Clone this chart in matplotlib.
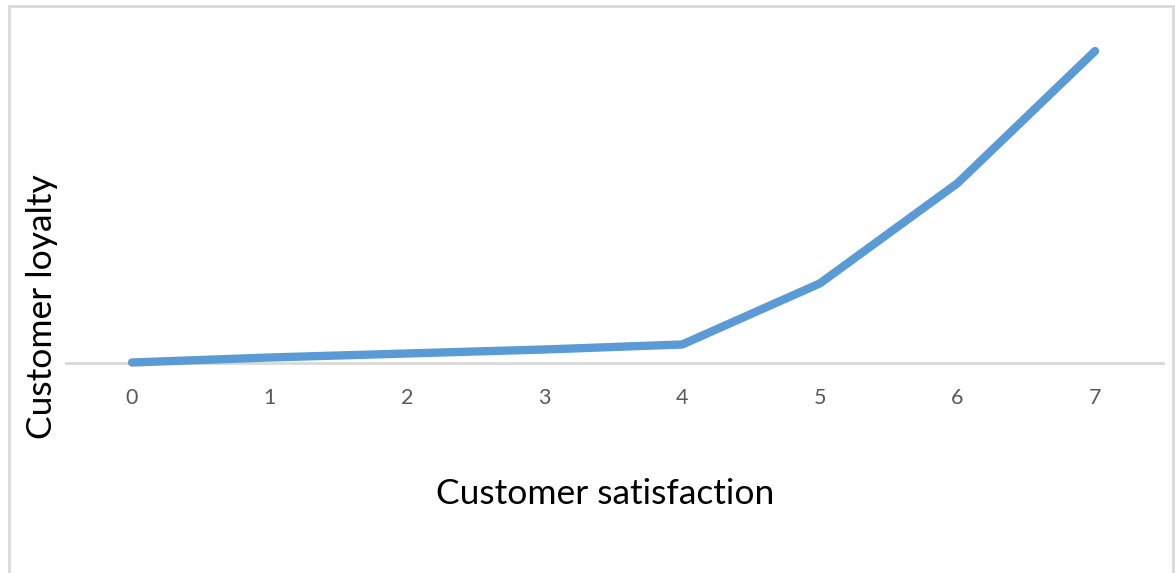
import matplotlib.pyplot as plt
from matplotlib.patches import Rectangle

# values (arbitrary units, no y scale shown)
satisfaction = [0, 1, 2, 3, 4, 5, 6, 7]
loyalty = [0, 5, 9, 13, 18, 79, 179, 311]

W, H = 1175, 573

fig = plt.figure(figsize=(W / 100, H / 100), dpi=100)
fig.patch.set_facecolor("white")

# light grey frame around the chart area (open at the bottom)
fig.patches.append(Rectangle((8.5 / W, -0.05), (1173 - 8.5) / W, 1.05 - 5.5 / H,
                             transform=fig.transFigure, fill=False,
                             edgecolor="#d9d9d9", linewidth=2))

left, right = 66 / W, 1163 / W
bottom, top = 1 - 362.5 / H, 1 - 20 / H
ax = fig.add_axes([left, bottom, right - left, top - bottom])

ax.plot(satisfaction, loyalty, color="#5b9bd5", linewidth=6,
        solid_capstyle="round", solid_joinstyle="round", clip_on=False, zorder=3)

ax.set_xlim(-0.48, 7.494)
ax.set_ylim(0, 342)

for s in ["top", "right", "left"]:
    ax.spines[s].set_visible(False)
ax.spines["bottom"].set_color("#d9d9d9")
ax.spines["bottom"].set_linewidth(2)

ax.set_yticks([])
ax.set_xticks(satisfaction)
ax.set_xticklabels([str(v) for v in satisfaction], fontsize=15.5, color="#595959",
                   family="Lato")
ax.tick_params(axis="x", length=0, pad=18)

fig.text(605 / W, 1 - 494 / H, "Customer satisfaction", ha="center", va="center",
         fontsize=25.5, family="Lato", color="black")
fig.text(42 / W, 1 - 307 / H, "Customer loyalty", ha="center", va="center",
         rotation=90, fontsize=25.5, family="Lato", color="black")

fig.savefig("out.png", dpi=100, facecolor="white")
